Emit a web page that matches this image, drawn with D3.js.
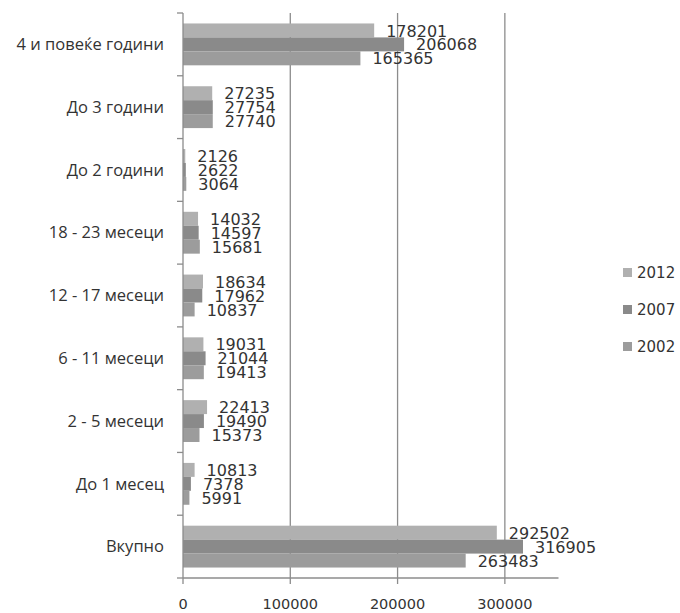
<!DOCTYPE html>
<html><head><meta charset="utf-8">
<script src="https://cdn.jsdelivr.net/npm/d3@7"></script>
<style>body{margin:0;background:#fff;}svg{display:block;}</style>
</head><body>
<svg id="c" width="680" height="613"></svg>
<script>
const categories = ["4 и повеќе  години","До 3 години","До 2 години","18 - 23 месеци","12 - 17 месеци","6 - 11 месеци","2 - 5 месеци","До 1 месец","Вкупно"];
const years = ["2012","2007","2002"];
const values2012 = [178201,27235,2126,14032,18634,19031,22413,10813,292502];
const values2007 = [206068,27754,2622,14597,17962,21044,19490,7378,316905];
const values2002 = [165365,27740,3064,15681,10837,19413,15373,5991,263483];
const xTicks = [0,100000,200000,300000];
const colors = {"2012":"#b0b0b0","2007":"#8a8a8a","2002":"#9c9c9c"};
const series = {"2012":values2012,"2007":values2007,"2002":values2002};

(function(){
const svg = d3.select("#c");
const pL = 183, pR = 558.5, pT = 13, pB = 578;
const x = d3.scaleLinear().domain([0,350000]).range([pL,pR]);
const y = d3.scaleBand().domain(categories).range([pT,pB]).paddingInner(0).paddingOuter(0);
const gap = y.bandwidth()/4.5*0.75;
const yIn = d3.scaleBand().domain(years).range([gap, y.bandwidth()-gap]);

svg.append("g").selectAll("line").data(xTicks.slice(1)).join("line")
  .attr("x1",d=>x(d)).attr("x2",d=>x(d)).attr("y1",pT).attr("y2",pB)
  .attr("stroke","#8c8c8c").attr("stroke-width",1.3);

categories.forEach((c,i)=>{
  years.forEach(yr=>{
    const v = series[yr][i];
    svg.append("rect").attr("x",x(0)).attr("y",y(c)+yIn(yr))
      .attr("width",x(v)-x(0)).attr("height",yIn.bandwidth())
      .attr("fill",colors[yr]);
  });
});

const ga = svg.append("g");
ga.append("line").attr("x1",pL).attr("x2",pL).attr("y1",pT).attr("y2",pB).attr("stroke","#8c8c8c").attr("stroke-width",1.3);
ga.append("line").attr("x1",pL).attr("x2",pR).attr("y1",pB).attr("y2",pB).attr("stroke","#8c8c8c").attr("stroke-width",1.3);
const bounds = categories.map(c=>y(c)).concat([pB]);
ga.selectAll("line.t").data(bounds).join("line").attr("class","t")
  .attr("x1",pL-6).attr("x2",pL).attr("y1",d=>d).attr("y2",d=>d).attr("stroke","#8c8c8c").attr("stroke-width",1.3);
ga.selectAll("line.xt").data(xTicks).join("line").attr("class","xt")
  .attr("x1",d=>x(d)).attr("x2",d=>x(d)).attr("y1",pB).attr("y2",pB+6).attr("stroke","#8c8c8c").attr("stroke-width",1.3);
ga.selectAll("text.xl").data(xTicks).join("text").attr("class","xl")
  .attr("x",d=>x(d)).attr("y",pB+31).attr("text-anchor","middle")
  .attr("font-family","DejaVu Sans").attr("font-size",14.5).attr("fill","#333")
  .text(d=>d);

svg.selectAll("text.cat").data(categories).join("text").attr("class","cat")
  .attr("x",164).attr("y",d=>y(d)+y.bandwidth()/2).attr("dy","0.35em")
  .attr("text-anchor","end").attr("font-family","Open Sans").attr("font-size",16.5).attr("fill","#333")
  .text(d=>d);

categories.forEach((c,i)=>{
  years.forEach(yr=>{
    const v = series[yr][i];
    svg.append("text").attr("x",x(v)+12).attr("y",y(c)+yIn(yr)+yIn.bandwidth()/2).attr("dy","0.38em")
      .attr("font-family","DejaVu Sans").attr("font-size",16).attr("fill","#333")
      .text(v);
  });
});

const lg = svg.append("g");
years.forEach((yr,i)=>{
  const cy = 273 + i*37;
  lg.append("rect").attr("x",623).attr("y",cy-5).attr("width",9).attr("height",9).attr("fill",colors[yr]);
  lg.append("text").attr("x",637).attr("y",cy).attr("dy","0.35em").attr("font-family","DejaVu Sans")
    .attr("font-size",15).attr("fill","#333").text(yr);
});
})();
</script>
</body></html>
